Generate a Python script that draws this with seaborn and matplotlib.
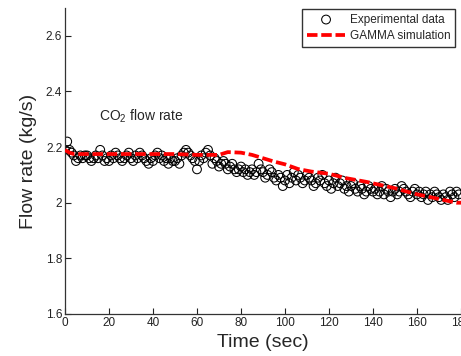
import numpy as np
import pandas as pd
import matplotlib
matplotlib.use("Agg")
import matplotlib.pyplot as plt
import seaborn as sns

# ---- data ----
exp_time = list(range(0, 180))
exp_flow = [
    2.19, 2.22, 2.19, 2.18, 2.17, 2.15, 2.16, 2.17, 2.16, 2.17,
    2.17, 2.16, 2.15, 2.16, 2.17, 2.16, 2.19, 2.17, 2.15, 2.16,
    2.15, 2.17, 2.16, 2.18, 2.17, 2.16, 2.15, 2.16, 2.17, 2.18,
    2.16, 2.15, 2.17, 2.16, 2.18, 2.17, 2.16, 2.15, 2.14, 2.16,
    2.15, 2.17, 2.18, 2.16, 2.17, 2.15, 2.16, 2.14, 2.16, 2.15,
    2.15, 2.16, 2.14, 2.17, 2.18, 2.19, 2.18, 2.17, 2.16, 2.15,
    2.12, 2.15, 2.17, 2.16, 2.18, 2.19, 2.17, 2.14, 2.16, 2.15,
    2.13, 2.14, 2.15, 2.14, 2.12, 2.13, 2.14, 2.12, 2.11, 2.12,
    2.13, 2.11, 2.12, 2.10, 2.11, 2.12, 2.10, 2.11, 2.14, 2.12,
    2.11, 2.09, 2.10, 2.12, 2.11, 2.09, 2.08, 2.10, 2.09, 2.06,
    2.08, 2.10, 2.07, 2.09, 2.11, 2.08, 2.10, 2.09, 2.07, 2.08,
    2.10, 2.09, 2.08, 2.06, 2.07, 2.09, 2.08, 2.10, 2.07, 2.06,
    2.08, 2.05, 2.07, 2.09, 2.06, 2.07, 2.08, 2.05, 2.06, 2.04,
    2.06, 2.07, 2.05, 2.04, 2.06, 2.05, 2.03, 2.04, 2.06, 2.05,
    2.04, 2.05, 2.03, 2.04, 2.06, 2.03, 2.05, 2.04, 2.02, 2.04,
    2.05, 2.03, 2.04, 2.06, 2.05, 2.04, 2.03, 2.02, 2.04, 2.05,
    2.03, 2.04, 2.02, 2.03, 2.04, 2.01, 2.03, 2.02, 2.04, 2.03,
    2.02, 2.01, 2.03, 2.02, 2.01, 2.04, 2.03, 2.02, 2.04, 2.03,
]

sim_time = [0, 2, 4, 10, 20, 30, 40, 50, 60, 70, 74, 80, 85, 90, 95, 100,
            106, 112, 120, 128, 137, 141, 150, 159, 165, 172, 178, 180]
sim_flow = [2.19, 2.18, 2.175, 2.175, 2.175, 2.175, 2.175, 2.175, 2.172, 2.172,
            2.182, 2.180, 2.172, 2.160, 2.148, 2.138,
            2.121, 2.112, 2.104, 2.088, 2.075, 2.068, 2.052, 2.032, 2.022, 2.010, 2.0, 2.0]

x_ticks = [0, 20, 40, 60, 80, 100, 120, 140, 160, 180]
y_ticks = [1.6, 1.8, 2.0, 2.2, 2.4, 2.6]
y_tick_labels = ["1.6", "1.8", "2", "2.2", "2.4", "2.6"]

exp_df = pd.DataFrame({"time": exp_time, "flow": exp_flow})
sim_df = pd.DataFrame({"time": sim_time, "flow": sim_flow})

# ---- style ----
sns.set_style("white")
plt.rcParams["font.family"] = ["Liberation Sans", "DejaVu Sans"]
plt.rcParams["mathtext.fontset"] = "custom"
plt.rcParams["mathtext.rm"] = "Liberation Sans"
plt.rcParams["mathtext.it"] = "Liberation Sans:italic"

fig = plt.figure(figsize=(4.61, 3.56), dpi=100)
ax = fig.add_axes([65 / 461, 42 / 356, 396 / 461, 306 / 356])

sns.scatterplot(data=exp_df, x="time", y="flow", ax=ax, s=40,
                facecolor="none", edgecolor="black", linewidth=0.75,
                marker="o", label="Experimental data", zorder=2)
sns.lineplot(data=sim_df, x="time", y="flow", ax=ax, color="#ff0000",
             linewidth=2.7, dashes=(2.8, 1.0), label="GAMMA simulation",
             zorder=3)

ax.set_xlim(0, 180)
ax.set_ylim(1.6, 2.7)
ax.set_xticks(x_ticks)
ax.set_yticks(y_ticks)
ax.set_yticklabels(y_tick_labels)
ax.tick_params(direction="in", length=4, width=0.8, labelsize=8.5,
               colors="#222222", pad=2, left=True, bottom=True)
for s in ["top", "right"]:
    ax.spines[s].set_visible(False)
for s in ["left", "bottom"]:
    ax.spines[s].set_color("#333333")
    ax.spines[s].set_linewidth(0.9)

ax.set_xlabel("Time (sec)", fontsize=14, labelpad=4)
ax.set_ylabel("Flow rate (kg/s)", fontsize=14, labelpad=6)

ax.text(15.5, 2.31, "CO$_2$ flow rate", fontsize=10, va="center", ha="left")

leg = ax.legend(loc="upper right", bbox_to_anchor=(390 / 396, 0.997),
                fontsize=8.5, frameon=True, fancybox=False,
                edgecolor="black", borderpad=0.4, handlelength=3.2,
                labelspacing=0.4, handletextpad=0.4, borderaxespad=0.0)
leg.get_frame().set_linewidth(1.0)

fig.savefig("out.png", dpi=100)
